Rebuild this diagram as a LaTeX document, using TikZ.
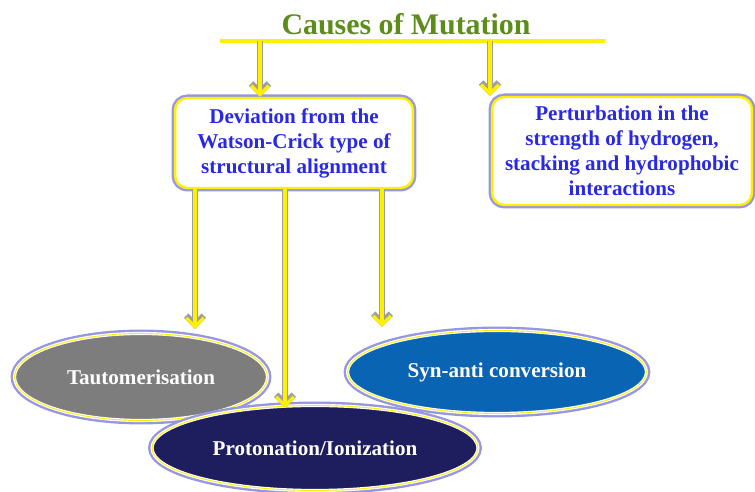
\documentclass[tikz,border=0pt]{standalone}
\usepackage{fontspec}
\setmainfont{Liberation Serif}
\usetikzlibrary{arrows.meta,positioning,calc,shapes.geometric}
\definecolor{ttlgreen}{RGB}{92,140,26}
\definecolor{txtblue}{RGB}{40,40,230}
\definecolor{yel}{RGB}{255,240,0}
\definecolor{glow}{RGB}{150,150,225}
\definecolor{tautgray}{RGB}{125,125,125}
\definecolor{synblue}{RGB}{10,100,180}
\definecolor{navy}{RGB}{30,30,95}
\tikzset{
  ttl/.style ={font=\bfseries\fontsize{17}{20}\selectfont,text=ttlgreen,inner sep=0pt},
  cbox/.style={draw=yel,line width=1.4pt,rounded corners=7pt,fill=white,text=txtblue,align=center,
               font=\bfseries\fontsize{12}{14.2}\selectfont,inner sep=2pt,
               preaction={draw=glow,line width=4pt}},
  ell/.style ={ellipse,draw=white,line width=1.8pt,text=white,inner sep=0pt,
               font=\bfseries\fontsize{12}{14}\selectfont,
               preaction={draw=glow,line width=4.5pt},postaction={draw=yel,line width=0.5pt}},
  yar/.style ={yel,line width=1.9pt,-{Straight Barb[length=5pt,width=10pt]},
               preaction={draw=black!38,line width=3.6pt,-{Straight Barb[length=5pt,width=10pt]}}},
  bar/.style ={yel,line width=2pt},
}
\begin{document}
\begin{tikzpicture}[x=0.02cm,y=-0.02cm]
  \useasboundingbox (0,0) rectangle (755,492);
  % title and bar
  \node[ttl] (title) at (406,24) {Causes of Mutation};
  \coordinate (barL) at (220,41); \coordinate (barR) at (605,41);
  \draw[bar] (barL) -- (barR);
  % the two causes
  \node[cbox,minimum width=4.76cm,minimum height=1.8cm] (dev) at (294,143)
    {Deviation from the\\Watson-Crick type of\\structural alignment};
  \node[cbox,minimum width=5.2cm,minimum height=2.16cm] (pert) at (622,151)
    {Perturbation in the\\strength of hydrogen,\\stacking and hydrophobic\\interactions};
  % kinds of deviation
  \node[ell,fill=tautgray,minimum width=5.06cm,minimum height=1.74cm] (taut) at (141,377) {Tautomerisation};
  \node[ell,fill=synblue,minimum width=5.98cm,minimum height=1.66cm] (syn) at (497,372) {Syn-anti conversion};
  \node[ell,fill=navy,minimum width=6.52cm,minimum height=1.7cm] (proto) at (315,448) {Protonation/Ionization};
  % arrows
  \coordinate (a1) at (260,41); \coordinate (a2) at (490,41);
  \draw[yar] (a1) -- (a1 |- dev.north);
  \draw[yar] (a2) -- (a2 |- pert.north);
  \coordinate (e1) at (195,329); \coordinate (e2) at (285,408); \coordinate (e3) at (382,327);
  \draw[yar] (dev.south -| e1) -- (e1);
  \draw[yar] (dev.south -| e2) -- (e2);
  \draw[yar] (dev.south -| e3) -- (e3);
\end{tikzpicture}
\end{document}
